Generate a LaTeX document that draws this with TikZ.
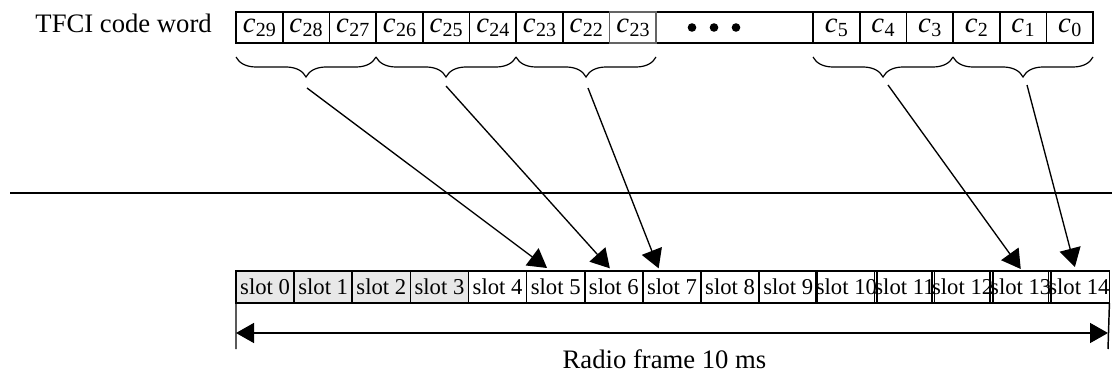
\documentclass[tikz,border=0pt]{standalone}
\usepackage{fontspec}
\setmainfont{Liberation Serif}
\usetikzlibrary{arrows.meta,decorations.pathreplacing}
\newcommand{\cw}[1]{\textit{c}\kern0.3pt\raisebox{-2.8pt}{\fontsize{15}{15}\selectfont #1}}
\definecolor{slotgray}{RGB}{232,232,232}
\definecolor{cellgray}{RGB}{100,100,100}
\begin{document}
\begin{tikzpicture}[x=0.75pt,y=-0.75pt,
  cell/.style={draw=black, line width=1.25pt, minimum width=35pt, minimum height=23.25pt,
    inner sep=0pt, outer sep=0pt, text height=9.75pt, text depth=2.25pt,
    font=\fontsize{21.5}{21.5}\selectfont},
  dotsbox/.style={draw=black, line width=1.25pt, minimum width=117.5pt, minimum height=23.25pt,
    inner sep=0pt, outer sep=0pt},
  slotbox/.style={draw=black, line width=1.25pt, minimum width=43.6pt, minimum height=24pt,
    inner sep=0pt, outer sep=0pt, font=\fontsize{17}{17}\selectfont},
  brc/.style={decorate, decoration={brace, mirror, amplitude=15pt}, line width=0.9pt},
  arr/.style={line width=1pt, -{Triangle[length=14pt,width=16pt]}},
  dbl/.style={line width=1.1pt, {Triangle[length=13.5pt,width=15pt]}-{Triangle[length=13.5pt,width=15pt]}},
  sep/.style={line width=1.8pt},
  tick/.style={line width=1.1pt}
]
\useasboundingbox (0,0) rectangle (1112,374);

% label
\node[anchor=base east, inner sep=0pt, font=\fontsize{20}{20}\selectfont] (tfci) at (212,32.5) {TFCI code word};

% code word row
\node[dotsbox] (dots) at (734.65,27.5) {};
\fill (692,27.5) circle (4.3);
\fill (714,27.5) circle (4.3);
\fill (736,27.5) circle (4.3);
\foreach \t [count=\i from 0] in {29,28,27,26,25,24,23,22}
  \node[cell] (k\i) at ({236+(\i+0.5)*46.7},27.5) {\cw{\t}};
\foreach \t [count=\j from 0] in {5,4,3,2,1,0}
  \node[cell] (r\j) at ({813+(\j+0.5)*46.67},27.5) {\cw{\t}};
\node[cell, draw=cellgray] (k8) at ({236+8.5*46.7},27.5) {\cw{23}};

% braces
\draw[brc] (236,57) -- (376,57);
\draw[brc] (376,57) -- (516,57);
\draw[brc] (516,57) -- (656,57);
\draw[brc] (813,57) -- (953,57);
\draw[brc] (953,57) -- (1093,57);

% separator line
\coordinate (hl) at (10,193);
\coordinate (hr) at (1112,193);
\draw[sep] (hl) -- (hr);

% slots
\foreach \i in {0,...,3}
  \node[slotbox, fill=slotgray] (s\i) at ({236+(\i+0.5)*58.13},287) {slot \i};
\foreach \i in {4,...,14}
  \node[slotbox] (s\i) at ({236+(\i+0.5)*58.13},287) {slot \i};

% arrows from braces to slots
\coordinate (t1) at (307,88);
\coordinate (t2) at (446,86);
\coordinate (t3) at (588,88);
\coordinate (t4) at (888,85);
\coordinate (t5) at (1027,85);
\draw[arr] (t1) -- ([xshift=-6.5pt,yshift=2.25pt]s5.north);
\draw[arr] (t2) -- ([xshift=-3pt,yshift=2pt]s6.north);
\draw[arr] (t3) -- ([xshift=-10pt,yshift=2pt]s7.north);
\draw[arr] (t4) -- ([xshift=0pt,yshift=1.5pt]s13.north);
\draw[arr] (t5) -- ([xshift=-3pt,yshift=3pt]s14.north);

% radio frame
\coordinate (tl) at (236,349);
\coordinate (tr) at (1108,349);
\coordinate (fl) at (236,333);
\coordinate (fr) at (1108,333);
\draw[tick] (s0.south west) -- (tl);
\draw[tick] (s14.south east) -- (tr);
\draw[dbl] (fl) -- (fr);
\node[anchor=base, inner sep=0pt, font=\fontsize{20}{20}\selectfont] (rf) at (664.5,368) {Radio frame 10 ms};
\end{tikzpicture}
\end{document}
